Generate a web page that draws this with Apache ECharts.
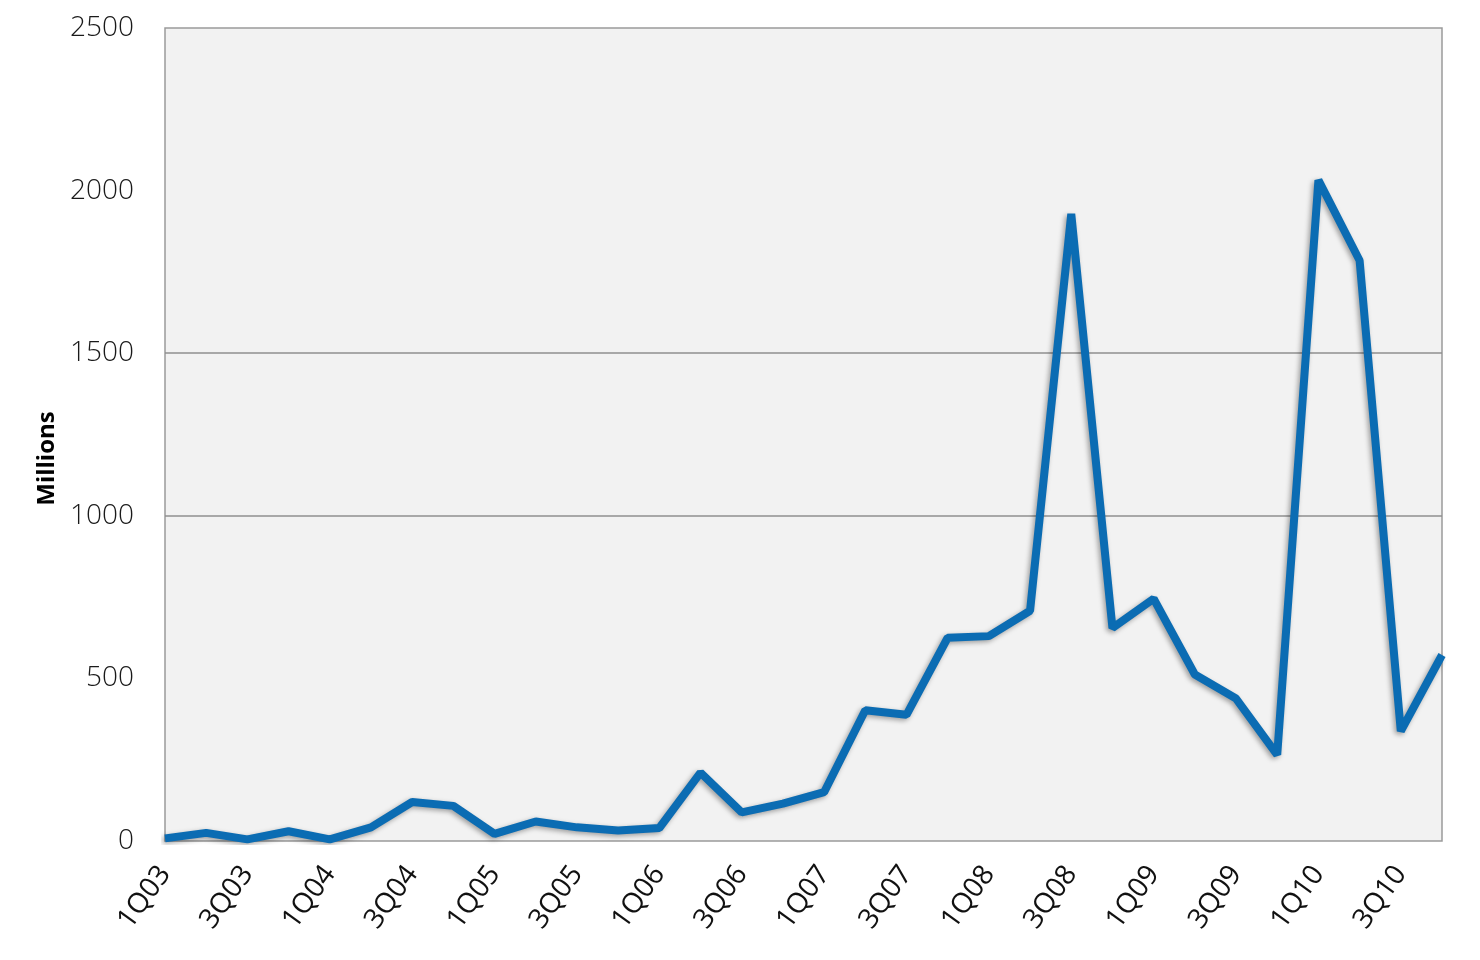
<!DOCTYPE html>
<html>
<head>
<meta charset="utf-8">
<title>Millions by quarter</title>
<script src="https://cdn.jsdelivr.net/npm/echarts@6/dist/echarts.min.js"></script>
<style>
	html, body { margin: 0; padding: 0; background: #ffffff; }
	#chart { width: 1480px; height: 960px; }
</style>
</head>
<body>
<div id="chart"></div>
<script>
/* 季度 */
const quarters = [
	"1Q03", "2Q03", "3Q03", "4Q03",
	"1Q04", "2Q04", "3Q04", "4Q04",
	"1Q05", "2Q05", "3Q05", "4Q05",
	"1Q06", "2Q06", "3Q06", "4Q06",
	"1Q07", "2Q07", "3Q07", "4Q07",
	"1Q08", "2Q08", "3Q08", "4Q08",
	"1Q09", "2Q09", "3Q09", "4Q09",
	"1Q10", "2Q10", "3Q10", "4Q10",
];
/* 數值 (百萬) */
const values = [
	8, 25, 5, 30,
	5, 42, 120, 108,
	22, 60, 42, 32,
	40, 210, 88, 115,
	150, 402, 388, 625,
	630, 708, 1928, 655,
	745, 512, 438, 265,
	2032, 1785, 338, 572,
];
/* 軸刻度 */
const yMin = 0;
const yMax = 2500;
const yStep = 500;
/* 只有 1000 和 1500 有格線 */
const gridLineColors = ["transparent", "transparent", "#8f8f8f", "#8f8f8f", "transparent", "transparent"];

const chart = echarts.init(document.getElementById("chart"));
chart.setOption({
	animation: false,
	grid: {
		left: 165,
		right: 38,
		top: 28,
		bottom: 119,
		show: true,
		backgroundColor: "#f2f2f2",
		borderColor: "#9a9a9a",
		borderWidth: 1.5,
	},
	xAxis: {
		type: "category",
		boundaryGap: false,
		data: quarters,
		axisLine: { show: false },
		axisTick: { show: false },
		axisLabel: {
			interval: 1,
			rotate: 54,
			margin: 28,
			color: "#111111",
			fontFamily: "Open Sans",
			fontSize: 28,
		},
	},
	yAxis: {
		type: "value",
		min: yMin,
		max: yMax,
		interval: yStep,
		name: "Millions",
		nameLocation: "middle",
		nameGap: 104,
		nameTextStyle: {
			fontFamily: "Open Sans",
			fontWeight: "bold",
			fontSize: 24,
			color: "#000000",
			padding: [0, 48, 0, 0],
		},
		axisLine: { show: false },
		axisTick: { show: false },
		axisLabel: {
			margin: 31,
			color: "#1a1a1a",
			fontFamily: "Open Sans",
			fontWeight: 300,
			fontSize: 28,
			formatter: (v) => String(v),
		},
		splitLine: {
			show: true,
			lineStyle: { color: gridLineColors, width: 1.5 },
		},
	},
	series: [
		{
			type: "line",
			data: values,
			showSymbol: false,
			smooth: false,
			lineStyle: {
				color: "#0b6cb3",
				width: 8,
				shadowColor: "rgba(0, 0, 0, 0.35)",
				shadowBlur: 5,
				shadowOffsetX: -2,
				shadowOffsetY: 2,
			},
		},
	],
});
</script>
</body>
</html>
